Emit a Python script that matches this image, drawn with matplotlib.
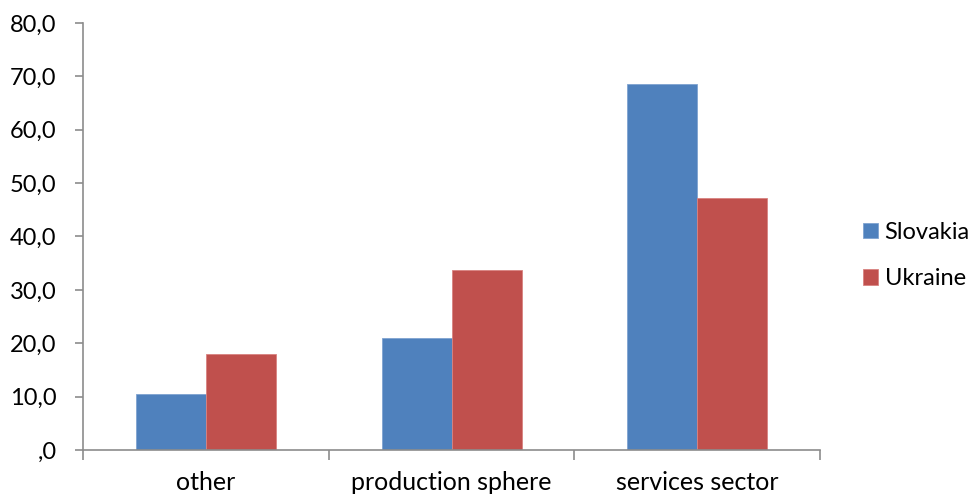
import matplotlib
matplotlib.use("Agg")
import matplotlib.pyplot as plt
from matplotlib.ticker import FuncFormatter, MultipleLocator
import numpy as np

categories = ["other", "production sphere", "services sector"]
slovakia = [10.4, 20.9, 68.6]
ukraine = [17.9, 33.7, 47.2]
series_names = ["Slovakia", "Ukraine"]

plt.rcParams["font.family"] = ["Lato", "DejaVu Sans"]

fig = plt.figure(figsize=(9.79, 4.97), dpi=100)
ax = fig.add_axes([0.0848, 0.0946, 0.7528, 0.8591])

x = np.arange(len(categories))
w = 0.285
b1 = ax.bar(x - w / 2, slovakia, w, color="#4F81BD", edgecolor="#7FA3D0", linewidth=0.6,
            label=series_names[0])
b2 = ax.bar(x + w / 2, ukraine, w, color="#C0504D", edgecolor="#D98380", linewidth=0.6,
            label=series_names[1])

ax.set_xlim(-0.5, len(categories) - 0.5)
ax.set_ylim(0, 80)
ax.yaxis.set_major_locator(MultipleLocator(10))


def fmt(v, pos):
    s = f"{v:.1f}".replace(".", ",")
    if s.startswith("0,"):
        s = s[1:]
    return s


ax.yaxis.set_major_formatter(FuncFormatter(fmt))
ax.set_xticks(x)
ax.set_xticklabels(categories)
ax.set_xticks(np.arange(len(categories) + 1) - 0.5, minor=True)

for side in ["top", "right"]:
    ax.spines[side].set_visible(False)
for side in ["left", "bottom"]:
    ax.spines[side].set_color("#8C8C8C")
    ax.spines[side].set_linewidth(1.2)

ax.tick_params(axis="y", length=6, width=1.2, color="#8C8C8C", pad=13, labelsize=17,
               labelcolor="black")
ax.tick_params(axis="x", which="major", length=0, pad=15, labelsize=18, labelcolor="black")
ax.tick_params(axis="x", which="minor", length=7, width=1.2, color="#8C8C8C")

fig.legend(handles=[b1, b2], labels=series_names, loc="center left",
           bbox_to_anchor=(0.8815, 0.486), frameon=False, fontsize=17,
           borderpad=0, borderaxespad=0,
           handlelength=0.62, handleheight=0.62, handletextpad=0.3, labelspacing=1.09)

fig.savefig("out.png", dpi=100, facecolor="white")
